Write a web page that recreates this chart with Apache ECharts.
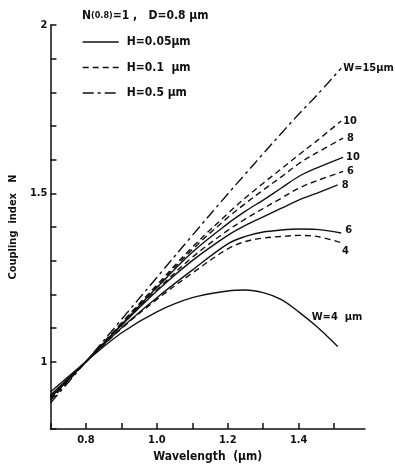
<!DOCTYPE html>
<html><head><meta charset="utf-8">
<script src="https://cdn.jsdelivr.net/npm/echarts@6/dist/echarts.min.js"></script>
<style>html,body{margin:0;padding:0;background:#fff}#c{width:395px;height:468px}</style>
</head><body><div id="c"></div>
<script>
// wavelength grid (µm); last point per series given in endLambda
var lambdaGrid = [0.7, 0.8, 0.9, 1.0, 1.1, 1.2, 1.25, 1.3, 1.35, 1.4, 1.45];
// coupling index N for each curve (H, W)
var h05_w15 = [0.877, 1.0, 1.125, 1.25, 1.375, 1.498, 1.558, 1.618, 1.677, 1.735, 1.79, 1.872];
var h01_w10 = [0.885, 1.0, 1.115, 1.228, 1.34, 1.44, 1.487, 1.53, 1.572, 1.614, 1.655, 1.715];
var h01_w8  = [0.888, 1.0, 1.112, 1.223, 1.333, 1.428, 1.47, 1.51, 1.548, 1.588, 1.62, 1.664];
var h01_w6  = [0.893, 1.0, 1.107, 1.213, 1.31, 1.39, 1.424, 1.455, 1.485, 1.515, 1.537, 1.565];
var h01_w4  = [0.898, 1.0, 1.098, 1.185, 1.263, 1.335, 1.357, 1.367, 1.372, 1.375, 1.372, 1.352];
var h005_w10 = [0.892, 1.0, 1.11, 1.22, 1.325, 1.41, 1.447, 1.48, 1.515, 1.55, 1.575, 1.607];
var h005_w8  = [0.895, 1.0, 1.108, 1.21, 1.30, 1.375, 1.405, 1.43, 1.455, 1.48, 1.50, 1.525];
var h005_w6  = [0.90, 1.0, 1.10, 1.19, 1.272, 1.35, 1.372, 1.385, 1.391, 1.394, 1.393, 1.382];
var h005_w4  = [0.91, 1.0, 1.085, 1.148, 1.19, 1.21, 1.213, 1.205, 1.185, 1.148, 1.105, 1.045];
var endLambda = {h05_w15:1.52, h01_w10:1.52, h01_w8:1.525, h01_w6:1.525, h01_w4:1.525, h005_w10:1.525, h005_w8:1.51, h005_w6:1.52, h005_w4:1.51};
var legendNames = ['H=0.05\u03bcm', 'H=0.1  \u03bcm', 'H=0.5 \u03bcm'];
var xTickLabels = ['0.8', '1.0', '1.2', '1.4'];
var yTickLabels = ['1', '1.5', '2'];

var FONT = '"DejaVu Sans Condensed","Liberation Sans Narrow","DejaVu Sans",sans-serif';
var INK = '#111';
var styles = {
  solid: {type: 'solid', width: 1.4},
  dash: {type: [6, 4], width: 1.4},
  dashdot: {type: [11, 4, 3, 4], width: 1.4}
};
function pts(key, vals) {
  var out = [];
  for (var i = 0; i < lambdaGrid.length; i++) out.push([lambdaGrid[i], vals[i]]);
  out.push([endLambda[key], vals[vals.length - 1]]);
  return out;
}
function mk(key, vals, name, st, label, off) {
  return {
    type: 'line', name: name, data: pts(key, vals), smooth: 0.35, symbol: 'none',
    lineStyle: Object.assign({color: INK}, styles[st]),
    itemStyle: {color: INK},
    endLabel: {show: true, formatter: label, offset: off, color: INK, fontFamily: FONT,
      fontWeight: 'bold', fontSize: 11, distance: 2},
    emphasis: {disabled: true}, silent: true, z: 3
  };
}
var chart = echarts.init(document.getElementById('c'), null, {renderer: 'canvas'});
chart.setOption({
  animation: false,
  backgroundColor: '#fff',
  title: {
    text: '{a|N}{s|(0.8)}{a|=1 ,   D=0.8 \u03bcm}', left: 77, top: 5,
    textStyle: {rich: {
      a: {fontFamily: FONT, fontWeight: 'bold', fontSize: 12, color: INK},
      s: {fontFamily: FONT, fontWeight: 'bold', fontSize: 9, color: INK}
    }}
  },
  legend: {
    data: legendNames, orient: 'vertical', left: 82, top: 36, padding: 0,
    itemWidth: 36, itemHeight: 12, itemGap: 13.5, selectedMode: false,
    itemStyle: {opacity: 0},
    lineStyle: {width: 1.4},
    textStyle: {fontFamily: FONT, fontWeight: 'bold', fontSize: 12, color: INK, padding: [0, 0, 0, 3]}
  },
  grid: {left: 47, right: 30, top: 25, bottom: 39, containLabel: false},
  xAxis: {
    type: 'value', min: 0.7, max: 1.587, interval: 0.1,
    name: 'Wavelength  (\u03bcm)', nameLocation: 'middle', nameGap: 22,
    nameTextStyle: {fontFamily: FONT, fontWeight: 'bold', fontSize: 12, color: INK},
    axisLine: {show: true, onZero: false, lineStyle: {color: INK, width: 1.5}},
    axisTick: {show: true, inside: true, length: 6, lineStyle: {color: INK, width: 1.5}},
    splitLine: {show: false},
    axisLabel: {
      margin: 6, fontFamily: FONT, fontWeight: 'bold', fontSize: 11, color: INK, showMaxLabel: false,
      formatter: function (v) {
        var s = v.toFixed(1);
        return xTickLabels.indexOf(s) >= 0 ? s : '';
      }
    }
  },
  yAxis: {
    type: 'value', min: 0.8, max: 2, interval: 0.1,
    name: 'Coupling  index   N', nameLocation: 'middle', nameGap: 23, nameRotate: 90,
    nameTextStyle: {fontFamily: FONT, fontWeight: 'bold', fontSize: 11, color: INK},
    axisLine: {show: true, onZero: false, lineStyle: {color: INK, width: 1.5}},
    axisTick: {show: true, inside: true, length: 6, lineStyle: {color: INK, width: 1.5}},
    splitLine: {show: false},
    axisLabel: {
      margin: 3, fontFamily: FONT, fontWeight: 'bold', fontSize: 11, color: INK,
      formatter: function (v) {
        var s = String(Math.round(v * 10) / 10);
        return yTickLabels.indexOf(s) >= 0 ? s : '';
      }
    }
  },
  series: [
    mk('h005_w10', h005_w10, legendNames[0], 'solid', '10', [1, 0]),
    mk('h005_w8', h005_w8, legendNames[0], 'solid', '8', [2, 0]),
    mk('h005_w6', h005_w6, legendNames[0], 'solid', '6', [2, -3]),
    mk('h005_w4', h005_w4, legendNames[0], 'solid', 'W=4  \u03bcm', [-28, -29]),
    mk('h01_w10', h01_w10, legendNames[1], 'dash', '10', [0, 0]),
    mk('h01_w8', h01_w8, legendNames[1], 'dash', '8', [2, 0]),
    mk('h01_w6', h01_w6, legendNames[1], 'dash', '6', [2, 0]),
    mk('h01_w4', h01_w4, legendNames[1], 'dash', '4', [-3, 8]),
    mk('h05_w15', h05_w15, legendNames[2], 'dashdot', 'W=15\u03bcm', [0, 0])
  ]
});
</script></body></html>
